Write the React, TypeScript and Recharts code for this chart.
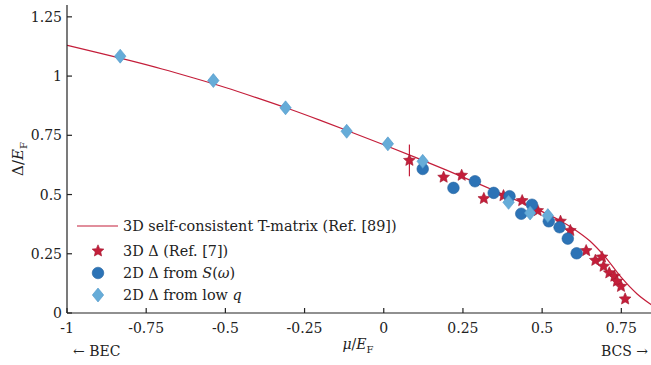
import React from "react";
import { ComposedChart, Line, Scatter, XAxis, YAxis, ErrorBar, Legend } from "recharts";

// T-matrix curve (3D self-consistent)
const curveMu = [-1, -0.9, -0.8, -0.7, -0.6, -0.5, -0.4, -0.3, -0.2, -0.1, 0, 0.1, 0.2, 0.3, 0.4, 0.5, 0.55, 0.6, 0.65, 0.7, 0.75, 0.8, 0.85];
const curveGap = [1.13, 1.098, 1.065, 1.03, 0.992, 0.952, 0.908, 0.862, 0.813, 0.762, 0.71, 0.657, 0.602, 0.545, 0.487, 0.428, 0.395, 0.355, 0.305, 0.235, 0.15, 0.08, 0.03];

// 3D gap, Ref. [7]
const starMu = [0.081, 0.189, 0.246, 0.316, 0.378, 0.437, 0.486, 0.558, 0.589, 0.639, 0.668, 0.689, 0.694, 0.712, 0.728, 0.736, 0.749, 0.762];
const starGap = [0.644, 0.573, 0.581, 0.483, 0.495, 0.474, 0.432, 0.387, 0.348, 0.263, 0.222, 0.236, 0.197, 0.169, 0.155, 0.134, 0.112, 0.059];
const starErr = [0.067, 0, 0, 0, 0, 0, 0, 0, 0, 0, 0, 0, 0, 0, 0, 0, 0, 0];

// 2D gap from S(omega)
const circleMu = [0.123, 0.22, 0.288, 0.347, 0.397, 0.434, 0.468, 0.521, 0.555, 0.581, 0.609];
const circleGap = [0.608, 0.528, 0.556, 0.507, 0.493, 0.419, 0.457, 0.387, 0.362, 0.314, 0.252];

// 2D gap from low q
const diamondMu = [-0.832, -0.538, -0.31, -0.117, 0.013, 0.123, 0.394, 0.462, 0.518];
const diamondGap = [1.084, 0.981, 0.866, 0.767, 0.714, 0.64, 0.467, 0.422, 0.411];

const xTicks = [-1, -0.75, -0.5, -0.25, 0, 0.25, 0.5, 0.75];
const xTickLabels = ["-1", "-0.75", "-0.5", "-0.25", "0", "0.25", "0.5", "0.75"];
const yTicks = [0, 0.25, 0.5, 0.75, 1, 1.25];
const yTickLabels = ["0", "0.25", "0.5", "0.75", "1", "1.25"];

const curveData = curveMu.map((mu, i) => ({ mu, gap: curveGap[i] }));
const starData = starMu.map((mu, i) => ({ mu, gap: starGap[i], err: starErr[i] }));
const circleData = circleMu.map((mu, i) => ({ mu, gap: circleGap[i] }));
const diamondData = diamondMu.map((mu, i) => ({ mu, gap: diamondGap[i] }));

const FONT = "DejaVu Serif";
const FS = 14;
const AXIS = "#222";
const RED = "#c41e3a";
const STAR_EDGE = "#a3182f";
const BLUE = "#2c73b6";
const BLUE_EDGE = "#2463a0";
const LIGHT = "#66acd8";
const LIGHT_EDGE = "#4f97ca";

function starPath(cx: number, cy: number, R: number, r: number) {
  let d = "";
  for (let k = 0; k < 10; k++) {
    const rad = k % 2 === 0 ? R : r;
    const a = -Math.PI / 2 + (k * Math.PI) / 5;
    d += (k ? "L" : "M") + (cx + rad * Math.cos(a)).toFixed(2) + "," + (cy + rad * Math.sin(a)).toFixed(2);
  }
  return d + "Z";
}

const StarShape = (p: any) => <path d={starPath(p.cx, p.cy, 6.2, 2.9)} fill={RED} stroke={STAR_EDGE} strokeWidth={0.6} />;
const CircleShape = (p: any) => <circle cx={p.cx} cy={p.cy} r={5.8} fill={BLUE} stroke={BLUE_EDGE} strokeWidth={0.6} />;
const DiamondShape = (p: any) => (
  <path d={`M${p.cx},${p.cy - 7}L${p.cx + 5.7},${p.cy}L${p.cx},${p.cy + 7}L${p.cx - 5.7},${p.cy}Z`} fill={LIGHT} stroke={LIGHT_EDGE} strokeWidth={0.6} />
);

const textStyle = { fontFamily: FONT, fontSize: FS };

const BottomTick = (p: any) => {
  const i = xTicks.indexOf(p.payload.value);
  return (
    <g>
      <line x1={p.x} x2={p.x} y1={p.y} y2={p.y - 5} stroke={AXIS} strokeWidth={1.2} />
      <text x={p.x} y={p.y + 20} textAnchor="middle" style={textStyle} fill={AXIS}>{xTickLabels[i]}</text>
    </g>
  );
};
const TopTick = (p: any) => <line x1={p.x} x2={p.x} y1={p.y} y2={p.y + 5} stroke={AXIS} strokeWidth={1.2} />;
const LeftTick = (p: any) => {
  const i = yTicks.indexOf(p.payload.value);
  return (
    <g>
      <line x1={p.x} x2={p.x + 5} y1={p.y} y2={p.y} stroke={AXIS} strokeWidth={1.2} />
      <text x={p.x - 5} y={p.y + 5} textAnchor="end" style={textStyle} fill={AXIS}>{yTickLabels[i]}</text>
    </g>
  );
};
const RightTick = (p: any) => <line x1={p.x} x2={p.x - 5} y1={p.y} y2={p.y} stroke={AXIS} strokeWidth={1.2} />;

const XLabel = (p: any) => {
  const { x, y, width } = p.viewBox;
  return (
    <g fill={AXIS}>
      <text x={x + width / 2 - 2} y={y + 36} textAnchor="middle" style={textStyle}>
        <tspan fontStyle="italic">μ</tspan>/<tspan fontStyle="italic">E</tspan>
        <tspan fontSize={10} dy={4}>F</tspan>
      </text>
      <text x={x + 6} y={y + 43} style={textStyle}>← BEC</text>
      <text x={x + width - 5} y={y + 43} textAnchor="end" style={textStyle}>BCS →</text>
    </g>
  );
};
const YLabel = (p: any) => {
  const { y, height } = p.viewBox;
  const cy = y + height / 2;
  return (
    <text x={23} y={cy} transform={`rotate(-90, 23, ${cy})`} textAnchor="middle" style={{ fontFamily: FONT, fontSize: 15 }} fill={AXIS}>
      Δ/<tspan fontStyle="italic">E</tspan>
      <tspan fontSize={10} dy={4}>F</tspan>
    </text>
  );
};

const legendRows = [
  { kind: "line", label: <>3D self-consistent T-matrix (Ref. [89])</> },
  { kind: "star", label: <>3D Δ (Ref. [7])</> },
  { kind: "circle", label: <>2D Δ from <i>S</i>(<i>ω</i>)</> },
  { kind: "diamond", label: <>2D Δ from low <i>q</i></> },
];

const LegendBox = () => (
  <div style={{ fontFamily: FONT, fontSize: 14.4, color: AXIS }}>
    {legendRows.map((r, i) => (
      <div key={i} style={{ display: "flex", alignItems: "center", height: 22, marginBottom: i === 0 ? 3 : 0 }}>
        <svg width={46} height={22}>
          {r.kind === "line" && <line x1={0} x2={41} y1={11} y2={11} stroke={RED} strokeWidth={1.2} />}
          {r.kind === "star" && <StarShape cx={21} cy={11} />}
          {r.kind === "circle" && <CircleShape cx={21} cy={11} />}
          {r.kind === "diamond" && <DiamondShape cx={21} cy={11} />}
        </svg>
        <span style={{ whiteSpace: "nowrap" }}>{r.label}</span>
      </div>
    ))}
  </div>
);

export default function App() {
  return (
    <div style={{ position: "absolute", left: 0, top: 0, width: 651, height: 365, overflow: "hidden", background: "#fff", fontFamily: FONT }}>
      <ComposedChart width={662} height={365} margin={{ top: 5, right: 9, left: 0, bottom: 0 }} style={{ fontFamily: FONT }}>
        <XAxis
          dataKey="mu"
          type="number"
          domain={[-1, 0.85]}
          ticks={xTicks}
          allowDataOverflow
          height={52}
          tickSize={0}
          tickMargin={0}
          tick={<BottomTick />}
          tickLine={false}
          axisLine={{ stroke: AXIS, strokeWidth: 1.2 }}
          label={<XLabel />}
        />
        <XAxis
          xAxisId="top"
          dataKey="mu"
          type="number"
          orientation="top"
          domain={[-1, 0.85]}
          ticks={xTicks}
          allowDataOverflow
          height={0}
          tickSize={0}
          tickMargin={0}
          tick={<TopTick />}
          tickLine={false}
          axisLine={{ stroke: AXIS, strokeWidth: 1.2 }}
        />
        <YAxis
          type="number"
          domain={[0, 1.3]}
          ticks={yTicks}
          allowDataOverflow
          width={67}
          tickSize={0}
          tickMargin={0}
          tick={<LeftTick />}
          tickLine={false}
          axisLine={{ stroke: AXIS, strokeWidth: 1.2 }}
          label={<YLabel />}
        />
        <YAxis
          yAxisId="right"
          orientation="right"
          type="number"
          domain={[0, 1.3]}
          ticks={yTicks}
          allowDataOverflow
          width={0}
          tickSize={0}
          tickMargin={0}
          tick={<RightTick />}
          tickLine={false}
          axisLine={{ stroke: AXIS, strokeWidth: 1.2 }}
        />
        <Line data={curveData} dataKey="gap" type="monotone" stroke={RED} strokeWidth={1.2} dot={false} isAnimationActive={false} />
        <Scatter data={starData} dataKey="gap" shape={StarShape} isAnimationActive={false}>
          <ErrorBar dataKey="err" direction="y" width={0} stroke={RED} strokeWidth={1.2} />
        </Scatter>
        <Scatter data={circleData} dataKey="gap" shape={CircleShape} isAnimationActive={false} />
        <Scatter data={diamondData} dataKey="gap" shape={DiamondShape} isAnimationActive={false} />
        <Legend
          layout="vertical"
          align="center"
          verticalAlign="middle"
          content={<LegendBox />}
          wrapperStyle={{ left: 77, top: 215, width: 340 }}
        />
      </ComposedChart>
    </div>
  );
}
